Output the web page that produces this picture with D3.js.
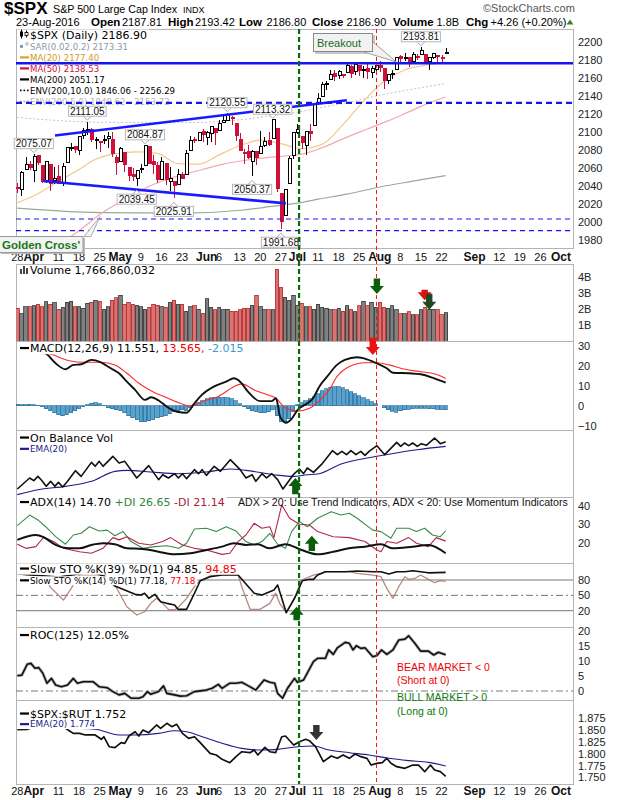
<!DOCTYPE html>
<html><head><meta charset="utf-8">
<script src="https://cdn.jsdelivr.net/npm/d3@7"></script>
<style>body{margin:0;background:#fff}</style>
</head><body><svg id="c" width="620" height="800" font-family="Liberation Sans, Arial, sans-serif"></svg>
<script>
// ---------------- DATA ----------------
const calStart='2016-03-28', calEnd='2016-10-08';
const holidays=['2016-05-30','2016-07-04','2016-09-05'];
const open=[2037.89,2035.75,2058.27,2063.77,2056.62,2073.19,2062.50,2045.56,2063.01,2045.54,
2050.23,2043.72,2065.92,2082.89,2083.10,2078.83,2096.05,2101.52,2102.09,2091.49,
2089.37,2089.84,2092.57,2090.93,2071.82,2067.17,2077.18,2060.30,2052.95,2047.77,
2057.55,2062.63,2083.29,2067.17,2062.50,2046.53,2065.04,2044.38,2044.21,2041.88,
2052.23,2052.65,2078.93,2091.44,2090.06,2100.13,2093.94,2097.71,2104.07,2100.83,
2110.18,2112.71,2115.65,2109.57,2091.75,2076.65,2077.60,2066.36,2078.20,2075.58,
2085.19,2089.75,2092.80,2103.81,2031.45,2006.67,2042.69,2073.17,2099.34,2095.05,
2084.43,2100.42,2106.97,2131.72,2139.50,2153.81,2157.88,2165.13,2162.04,2163.79,
2166.10,2172.91,2166.47,2173.71,2168.97,2169.81,2166.05,2168.83,2173.15,2169.94,
2156.81,2163.51,2168.79,2183.76,2182.24,2182.81,2177.97,2183.74,2186.08,2186.24,
2177.84,2181.90,2184.24,2181.58,2187.81];
const high=[2042.67,2055.91,2072.21,2067.92,2075.07,2074.02,2062.50,2067.33,2063.01,2060.63,
2062.93,2065.05,2083.18,2087.84,2083.22,2094.66,2104.05,2111.05,2103.78,2094.32,
2089.37,2096.87,2099.89,2099.30,2073.85,2083.42,2077.18,2060.30,2060.23,2057.72,
2064.15,2084.87,2083.29,2073.99,2066.79,2071.88,2065.69,2060.61,2044.21,2058.35,
2055.58,2079.67,2094.73,2094.30,2099.06,2103.48,2100.97,2105.26,2104.07,2113.36,
2119.22,2120.55,2117.64,2109.57,2098.12,2081.30,2085.65,2079.62,2078.20,2100.66,
2093.66,2099.71,2113.32,2103.81,2031.45,2036.09,2073.13,2098.94,2108.71,2095.05,
2100.72,2109.08,2131.71,2143.16,2155.40,2156.45,2169.05,2169.05,2168.35,2164.63,
2175.63,2174.56,2175.11,2173.71,2173.54,2174.98,2172.85,2177.09,2178.29,2170.20,
2163.79,2168.19,2182.87,2185.44,2187.66,2183.41,2188.45,2186.28,2193.81,2186.24,
2183.08,2187.03,2185.00,2184.87,2193.42];
const low=[2031.96,2028.31,2058.27,2057.46,2043.98,2062.57,2042.56,2043.09,2033.80,2041.69,
2041.88,2039.74,2065.92,2078.13,2076.31,2073.65,2091.68,2096.32,2088.52,2081.20,
2077.52,2085.80,2082.31,2071.62,2052.28,2066.11,2054.89,2045.55,2045.77,2039.45,
2054.31,2062.63,2064.46,2053.13,2043.13,2046.53,2040.82,2034.49,2025.91,2041.88,
2047.26,2052.65,2078.93,2087.08,2090.06,2088.66,2085.10,2088.59,2085.36,2100.83,
2110.18,2112.71,2107.73,2089.96,2078.46,2064.10,2069.80,2050.37,2062.84,2075.58,
2083.02,2084.36,2092.80,2032.57,1991.68,2006.67,2042.69,2070.00,2097.90,2080.86,
2074.02,2089.39,2106.97,2131.72,2139.50,2146.21,2157.88,2155.79,2159.07,2159.40,
2164.89,2159.75,2163.24,2161.95,2160.18,2159.07,2159.74,2163.49,2166.21,2147.58,
2152.61,2159.07,2168.79,2177.85,2178.61,2172.00,2177.97,2179.42,2186.08,2178.14,
2168.50,2180.46,2175.13,2175.30,2186.80];
const close=[2037.05,2055.01,2063.95,2059.74,2072.78,2066.13,2045.17,2066.66,2041.91,2047.60,
2041.99,2061.72,2082.42,2082.78,2080.73,2094.34,2100.80,2102.40,2091.48,2091.58,
2087.79,2091.70,2095.15,2075.81,2065.30,2081.43,2063.37,2051.12,2050.63,2057.14,
2058.69,2084.39,2064.46,2064.11,2046.61,2066.66,2047.21,2047.63,2040.04,2052.32,
2048.04,2076.06,2090.54,2090.10,2099.06,2096.95,2099.33,2105.26,2099.13,2109.41,
2112.13,2119.12,2115.48,2096.07,2079.06,2075.32,2071.50,2077.99,2071.22,2083.25,
2088.90,2085.45,2113.32,2037.41,2000.54,2036.09,2070.77,2098.86,2102.95,2088.55,
2099.73,2097.90,2129.90,2137.16,2152.14,2152.43,2163.75,2161.74,2166.89,2163.78,
2173.02,2165.17,2175.03,2168.48,2169.18,2166.58,2170.06,2173.60,2170.84,2157.03,
2163.79,2164.25,2182.87,2180.89,2181.74,2175.49,2185.79,2184.05,2190.15,2178.15,
2182.22,2187.02,2183.87,2182.64,2186.90];
const volume=[2.06,1.69,2.15,2.13,2.2,2.3,2.15,2.45,2.3,2.4,
1.99,2.1,2.42,2.48,2.15,2.15,2.06,2.35,2.42,2.56,
2.48,1.99,2.15,2.56,2.69,2.87,2.3,2.42,2.3,2.25,
2.15,2.0,2.1,2.3,2.23,2.15,2.1,2.42,2.56,2.3,
2.3,1.85,2.15,2.2,1.99,1.73,2.65,2.1,1.94,2.1,
1.94,1.99,1.85,1.85,1.94,2.06,2.06,2.23,2.87,2.15,
1.94,1.96,1.96,4.5,3.35,2.73,2.56,2.87,
2.23,2.35,2.15,2.15,1.99,2.3,2.1,2.06,1.94,1.94,2.04,1.85,2.2,1.99,1.83,2.2,2.48,2.2,2.42,2.1,2.42,2.1,2.06,2.2,1.94,1.69,1.69,1.83,1.63,1.63,1.94,2.1,1.99,1.99,1.94,1.63,1.77];
const ma20=[[0,2021],[5,2031],[10,2045],[15,2058],[19,2069.4],[24,2075.7],[29,2077.5],[34,2075.9],[39,2064.6],[44,2064],[49,2074.3],[54,2084.4],[59,2090.7],[64,2086.7],[69,2081.2],[74,2086],[79,2107.5],[84,2133.7],[89,2155.8],[94,2168.6],[99,2173.8],[104,2177.4]];
const ma50=[[0,1950],[4,1960],[8,1970],[10,1975],[15,1990],[20,2008],[25,2022],[30,2035],[35,2045],[40,2052],[45,2058],[50,2064],[55,2068],[60,2071],[65,2073],[70,2076],[75,2084],[80,2094],[85,2103],[90,2112],[95,2122],[100,2132],[104,2138.53]];
const ma200=[[0,2015],[20,2010],[40,2009.5],[55,2013],[60,2016],[68,2020.6],[73,2025],[80,2030.6],[88,2038.6],[96,2045],[104,2051.17]];
const envUpper=[[0,2115.8],[20,2110.5],[40,2110],[55,2113.7],[60,2116.8],[68,2121.6],[73,2126.3],[80,2132.1],[88,2140.5],[96,2147.3],[104,2153.72]];
const trendUpper=[[9.15,2095.8],[80,2134.9]];
const trendLower=[[6.3,2045.2],[65.2,2020.4]];
const levelSolid=2176, levelDashed=2132, levelsThin=[2003,1990];
const priceLabels=[[4,2075.07,'h'],[17,2111.05,'h'],[29,2039.45,'l'],[31,2084.87,'h'],[38,2025.91,'l'],[51,2120.55,'h'],[57,2050.37,'l'],[62,2113.32,'h'],[64,1991.68,'l'],[98,2193.81,'h']];
const macdLine=[[0,29],[3,28.5],[5,27.5],[7.2,25.7],[9.3,21.2],[11.7,18.2],[13.6,20.4],[15.5,20.7],[18,22.9],[20.3,21.7],[22.7,18.7],[24.7,16.2],[26.6,12],[28.6,7.9],[31,2.9],[32.5,4.2],[34.4,2.5],[36.3,-0.5],[38.8,-3],[41.1,-3.5],[43,1.2],[44.8,5.4],[47.7,9.5],[50.7,12],[52.6,13.7],[54.1,12],[56,7],[58.9,2.3],[61.8,2.3],[62.8,3.7],[63.8,-5.5],[65.2,-8.5],[66.7,-6.3],[68,-2.2],[70.4,1.2],[71.8,3.7],[73.3,9.5],[75.2,14.5],[77.6,20.4],[79.5,22.9],[82.5,24.2],[84.9,23.2],[87.3,21.2],[89.7,18.7],[91.2,16.5],[95.1,16.2],[98,15.7],[100.8,14],[102.7,12.5],[104,11.551]];
const macdSignal=[[0,27],[4,26.6],[7.2,26.2],[12.6,22.5],[16,21.7],[20.3,21.7],[23.7,20.4],[26.6,16.2],[29.5,11.2],[32.9,7],[36.3,4],[39.6,1.2],[42,-0.2],[44.8,2],[48.7,4.5],[52.6,9.5],[54.5,10.9],[57.5,7.9],[60.4,5.7],[62.8,3.7],[65.2,-1.3],[68,-2.7],[70.9,-1.3],[73.7,3.2],[75.7,7.9],[77.6,14.5],[80.5,19.5],[84.4,21.5],[87.3,21.5],[90.2,20.4],[94.1,18.2],[98,17],[101.7,15.7],[104,13.565]];
const macdHist=[0.8,0.6,0.5,0.8,0.5,0.2,-0.5,-1.5,-2.5,-3.5,-4.5,-5,-4.5,-3.5,-2.5,-1.5,-0.5,0.5,1.2,1.5,1,0.3,-1,-1.5,-2,-2.5,-3.5,-5,-6,-7,-8,-8,-7.5,-7,-6,-5.5,-5,-4,-3,-2.5,-2,-2.5,-1,0.5,1.5,2.5,3.5,4,4.2,4.3,4.2,4,3.5,2.5,1,-0.5,-1.5,-2.5,-3,-3.5,-3.5,-3,-2,-5,-8,-8,-6.5,-3,0.5,1.5,2.5,3.5,4.5,6,7.5,8.5,9.2,9.5,9.5,9,8,7,6,5,4,3,2,1,0,-1,-2,-2.8,-3.2,-2.5,-2,-1.8,-1.5,-1.3,-1.2,-1.3,-1.5,-1.6,-1.7,-1.9,-2.015];
const obv=[[0,11.9],[3,28.4],[4,24.4],[5,30.8],[5.9,24.9],[7,15.9],[8.1,23.4],[9.1,15.9],[10,21.9],[11,14.9],[12.2,23.4],[14.1,39.3],[15.5,30.8],[18,51.7],[18.9,45.8],[19.9,53.2],[20.8,45.8],[23.2,60.7],[24.7,50.7],[26.1,53.2],[29,28.4],[31.9,46.8],[34.3,25.9],[35.3,33.3],[36.7,28.4],[38.2,34.8],[39.1,28.4],[40.1,34.8],[41.1,27.4],[43,40.8],[44,34.8],[44.9,40.8],[45.9,32.3],[47.8,45.8],[49.3,38.3],[51.7,55.7],[54.1,40.8],[55.5,28.4],[57,33.3],[57.9,23.4],[59.4,34.8],[60.5,28.4],[61.8,34.8],[63.2,25.9],[64.5,11.9],[67,33.3],[68.5,41.8],[69.5,34.8],[70.4,43.3],[71.9,36.8],[73.8,48.3],[76.5,69.2],[77.7,63.2],[78.8,68.2],[79.9,63.2],[81,69.2],[82.2,63.2],[83.4,68.2],[84.4,62.2],[85.4,68.2],[87.3,76.6],[89.2,63.2],[92.1,81.6],[93.1,75.6],[94,80.6],[95,76.6],[96,80.6],[97.1,75.6],[98.1,79.6],[99.3,77.1],[101.3,88],[102.7,79.6],[104,82.6]];
const obvEma=[[0,3.5],[5,10.9],[11.7,15.9],[18,23.4],[23.7,38.3],[26.6,39.8],[32.4,37.3],[39.1,34.8],[45.8,37.3],[51.7,41.8],[55.5,39.8],[62.3,33.3],[67,30.8],[70.4,33.3],[72.9,34.3],[78.6,49.3],[87.3,60.7],[97,70.6],[104,75.6]];
const adx=[[0,21.8],[4.5,24.4],[6.4,23.2],[9.3,19.1],[12.6,17.3],[15.1,17.3],[18,19.1],[20.8,20],[23.7,19.5],[26.6,17.3],[30.5,17],[34.3,15.5],[38.2,14.1],[42,14.7],[45.9,16.4],[49.7,18.2],[52.6,20],[55.5,19.1],[58.4,19.5],[61.3,17.3],[65.1,19.5],[69,16.4],[72.9,14.1],[76.7,15.5],[80.5,17.3],[84.4,18.2],[88.3,19.5],[91.2,17.3],[96,18.2],[99.8,19.1],[104,14.7]];
const plusDI=[[0,29.4],[3,35],[5,32.4],[6.9,28.8],[9.3,23.5],[11.7,19.5],[13.6,24.4],[15.5,25.3],[17.5,28.8],[19.9,26.5],[21.8,27],[23.7,24],[25.7,26.2],[27.6,20.9],[30.5,17.3],[33.4,18.2],[36.3,18.7],[39.2,17.3],[41.1,20],[43,27.6],[45.9,28],[48.3,26.2],[50.7,28.8],[53.1,26.5],[55.5,20.9],[57.5,19.1],[59.4,20.9],[61.3,25.3],[63.2,19.5],[65.1,17.3],[66.6,26.2],[68.5,31.5],[70.4,28.8],[72.9,33.3],[76.2,36.8],[78.6,35],[80.6,36],[82.5,33.3],[86.3,27],[88.3,26.2],[90.7,22.7],[92.1,28],[95,28],[96.9,26.2],[98.9,28],[100.8,24.4],[102.7,23.5],[104,26.65]];
const minusDI=[[0,19.5],[2.1,17.3],[4.5,18.2],[6.4,23.2],[8.8,20.9],[11.2,17.3],[15.1,15.5],[18,14.7],[20.8,17.3],[23.2,23],[24.7,21.8],[26.6,23.5],[29.5,20],[32.4,19.1],[35.3,20.9],[37.2,23],[40.1,19.1],[43,17.3],[45.9,16.4],[49.7,14.1],[51.6,14.7],[53.6,20.9],[55.5,24.4],[57.5,30.6],[59.4,28],[61.3,28.8],[62.3,23],[64.2,40.4],[66.1,33.3],[68.5,30.1],[70.9,29.7],[72.9,26.2],[76.7,23.5],[80.6,23],[84.4,20.9],[87.3,16.4],[88.3,15.5],[89.7,20.9],[92.1,20],[95,23],[96.9,20],[99.8,18.2],[101.7,23],[104,21.14]];
const stoK39=[[0,92],[10,86],[18,95],[21,88],[23.7,68.2],[28.6,52],[30,50.7],[30.9,54],[31.9,44.2],[33.4,52],[34.8,37.6],[36.3,34.4],[38.2,31.1],[39,22.7],[41.1,22.7],[43,54],[44.4,78.6],[46.8,86.4],[49.7,89.7],[53.6,89.7],[57.5,54],[59.4,50.7],[62.3,60.4],[63.2,70.2],[65.3,16.1],[67.5,47.3],[69.2,78.6],[70.9,81.3],[71.9,81.3],[72.9,89.7],[74.8,96.2],[79.6,96.2],[82.5,97.5],[86.3,96.2],[88.3,96.2],[90.2,91.7],[92.1,96],[94.1,96.2],[96,98.1],[97.9,96.2],[99.8,94],[104,94.85]];
const stoK14=[[0,92],[6,88],[8.3,63.7],[11.2,40.9],[13.1,63.7],[15,90],[21,90],[23.7,70.2],[26.6,27.8],[29,11.6],[30.9,18],[32.4,34.4],[33.8,44.2],[35.3,34.4],[36.7,22.7],[38.2,21.4],[39.2,27.8],[41.1,44.2],[43,66.9],[44,76.6],[46.8,88],[49.7,91],[53.6,90],[54.5,66.9],[56.5,22.7],[58.9,22.7],[61.3,34.4],[62.7,54],[63.7,34.4],[65.3,16.1],[67.1,40.9],[69,80],[71.9,89.7],[73.8,93],[74.8,96.2],[80.5,96.2],[82.5,93],[86.3,89.7],[88.3,86.4],[89.7,63.7],[91.2,44.2],[92.6,66.9],[94.1,86.4],[95,81.3],[96.5,83],[97.9,89.7],[99.8,81.3],[101.3,74.7],[102.7,78.6],[104,77.18]];
const roc=[[0,5.1],[1.1,5.3],[2.4,8.9],[3.3,9.2],[4.3,7.6],[5.2,7.8],[6.2,5.9],[7.2,2.6],[8.3,4.2],[9.3,2],[10.7,1.4],[12.2,2],[13.6,4.2],[14.6,2.6],[16,3.1],[18.4,3.1],[19.9,1.4],[21.8,1.1],[23.2,-0.2],[24.7,-1.3],[26.1,-0.8],[27.6,-2.4],[29.5,-2.4],[30.5,-1.9],[31.6,-0.2],[32.4,-1.1],[34.3,-0.2],[35.5,1.7],[36.3,-0.8],[38.2,-1.3],[39.6,-1.7],[41.1,-1.6],[43,-0.2],[45.9,0.3],[47.3,0.9],[48.8,2.2],[49.7,0.9],[51.6,2.6],[53.1,2.6],[54.5,2.9],[56,1.8],[57.9,0.3],[59.9,3.7],[61.3,2.9],[62.5,2.6],[63.2,-0.8],[64.4,-2.4],[65.6,0.9],[67.3,4.2],[68,2.9],[69.5,3.7],[71.9,9.8],[72.9,10.9],[74.8,10.9],[75.6,13.7],[76.7,12.2],[77.7,14.4],[79.6,16.2],[80.6,15.9],[81.5,13.7],[82.3,15.1],[83.4,14.2],[84.4,14.4],[86.3,11.4],[87.3,11.8],[88.4,13.7],[89.7,12.2],[91.2,13.7],[92.6,17],[94.1,17.3],[95,18.4],[96.5,15.9],[97.9,13.3],[99.8,13.3],[101.1,12],[102.2,12.9],[104,12.05]];
const ratio=[[0,1.851],[2.5,1.8517],[4.5,1.858],[8,1.862],[11,1.858],[12.6,1.8487],[13.6,1.843],[15.1,1.843],[16.5,1.8397],[18.9,1.8397],[20.4,1.8305],[21,1.836],[22.3,1.8148],[23.7,1.8127],[25.2,1.8233],[26.1,1.822],[27.1,1.8375],[28.6,1.8466],[29.5,1.8375],[30.5,1.8502],[31.9,1.8445],[33.8,1.8608],[34.8,1.8537],[36.3,1.8644],[37.5,1.8573],[38.7,1.8622],[40.1,1.843],[41.6,1.8324],[43,1.836],[44.4,1.8233],[46.8,1.8008],[48.3,1.7973],[49.7,1.7881],[51.6,1.781],[53.1,1.7937],[54.5,1.8042],[56.5,1.8021],[57.5,1.8078],[58.4,1.7973],[60.1,1.8134],[61.3,1.8042],[62.7,1.8021],[64.2,1.836],[65.1,1.8375],[67.1,1.8184],[68.5,1.8254],[70,1.8305],[70.9,1.8276],[72.4,1.8148],[74.3,1.7831],[76.2,1.7952],[77.7,1.7902],[79.1,1.7973],[80.6,1.7902],[82,1.7994],[83.4,1.7937],[84.9,1.7902],[85.9,1.776],[87.3,1.7796],[88.6,1.781],[89.7,1.7902],[90.7,1.7796],[92.1,1.7725],[94.1,1.769],[96,1.776],[97.4,1.776],[98.9,1.7619],[100.3,1.776],[101.3,1.7654],[102.7,1.7619],[104,1.752]];
const ratioEma=[[0,1.856],[10,1.855],[18.9,1.8517],[24.7,1.8397],[28.6,1.8397],[34.3,1.843],[38.2,1.8487],[41.1,1.8466],[44.9,1.836],[49.7,1.822],[54.5,1.8113],[59.4,1.8078],[63.2,1.8092],[68,1.8148],[71.9,1.8163],[75.7,1.8078],[80.6,1.8021],[85.4,1.7973],[90.2,1.7902],[95,1.7853],[99.8,1.7817],[104,1.774]];
const dateTicks=[['2016-03-28','28'],['2016-04-01','Apr',1],['2016-04-11','11'],['2016-04-18','18'],['2016-04-25','25'],['2016-05-02','May',1],['2016-05-09','9'],['2016-05-16','16'],['2016-05-23','23'],['2016-06-01','Jun',1],['2016-06-06','6'],['2016-06-13','13'],['2016-06-20','20'],['2016-06-27','27'],['2016-07-01','Jul',1],['2016-07-11','11'],['2016-07-18','18'],['2016-07-25','25'],['2016-08-01','Aug',1],['2016-08-08','8'],['2016-08-15','15'],['2016-08-22','22'],['2016-09-01','Sep',1],['2016-09-12','12'],['2016-09-19','19'],['2016-09-26','26'],['2016-10-03','Oct',1]];
const mainTicks=[1980,2000,2020,2040,2060,2080,2100,2120,2140,2160,2180,2200];
const volTicks=[1,2,3,4], macdTicks=[-10,0,10,20,30], adxTicks=[20,30,40], stoTicks=[20,50,80], rocTicks=[0,5,10,15,20], ratioTicks=[1.75,1.775,1.8,1.825,1.85,1.875];
const breakoutIdx=68.4, crossIdx=87.2;
// arrows: [panel, idx, tailValue, tipValue, color]
const arrows=[['vol',87.3,3.9,2.94,'#0a5e0a'],['vol',98.9,3.2,2.55,'#e01010'],['vol',100,2.95,1.95,'#1f4a1f'],['macd',86.3,34,25.4,'#ee1111'],['obv',67.5,4,28.4,'#0a5e0a'],['adx',71.5,15.9,24,'#0a5e0a'],['sto',67.8,1.5,27.8,'#0a5e0a'],['ratio',72.6,1.861,1.829,'#333333']];

// ---------------- LAYOUT ----------------
const svg=d3.select('#c');
const L=16,R=573;
const LF='DejaVu Sans, Verdana, sans-serif';
const panels={main:[29,248],vol:[264,341],macd:[341,430],obv:[430,497],adx:[497,563],sto:[563,627],roc:[627,700],ratio:[700,784]};
const x=d3.scaleLinear().domain([0,104]).range([17.3,445.7]);
const y={
 main:d3.scaleLinear([1970.8,2214.1],[248,29]),
 vol:d3.scaleLinear([0,4.8125],[341,264]),
 macd:d3.scaleLinear([-12.15,32.35],[430,341]),
 obv:d3.scaleLinear([0,100],[497,430]),
 adx:d3.scaleLinear([9.5,44.6],[563,497]),
 sto:d3.scaleLinear([-11.8,113.2],[627,563]),
 roc:d3.scaleLinear([-3,21.33],[700,627]),
 ratio:d3.scaleLinear([1.7358,1.9138],[784,700])
};
const fmt=d3.utcFormat('%Y-%m-%d');
const cal=d3.utcDay.range(new Date(calStart+'T00:00Z'),new Date(calEnd+'T00:00Z')).filter(d=>d.getUTCDay()%6!==0&&!holidays.includes(fmt(d))).map(fmt);
const dayIdx=new Map(cal.map((d,i)=>[d,i]));
const isDown=i=>i===0?close[0]<open[0]:close[i]<close[i-1];
const RED='#d0103a';

const defs=svg.append('defs');
const G={};
Object.entries(panels).forEach(([k,[t,b]])=>{
  defs.append('clipPath').attr('id','cl-'+k).append('rect').attr('x',L).attr('y',t).attr('width',R-L).attr('height',b-t);
  svg.append('rect').attr('x',L+0.5).attr('y',t+0.5).attr('width',R-L).attr('height',b-t).attr('fill','#fff').attr('stroke','#b4b4b4');
  G[k]=svg.append('g').attr('clip-path',`url(#cl-${k})`);
});

function sline(g,pts,ys,stroke,w,opt={}){
  const ln=d3.line().x(d=>x(d[0])).y(d=>ys(d[1])).curve(opt.curve||d3.curveLinear);
  return g.append('path').datum(pts).attr('d',ln).attr('fill','none').attr('stroke',stroke).attr('stroke-width',w)
   .attr('stroke-dasharray',opt.dash||null).attr('stroke-linejoin','round').attr('opacity',opt.op||1);
}
function axis(k,ticks,f){
  const g=svg.append('g').attr('transform',`translate(${R+1},0)`).call(d3.axisRight(y[k]).tickValues(ticks).tickSize(0).tickPadding(4).tickFormat(f||d3.format('d')));
  g.select('.domain').remove();
  g.attr('font-family','Liberation Sans, Arial, sans-serif').attr('font-size',11);
  g.selectAll('text').attr('fill','#222');
}
// rows: {icon, ic, size, parts}
function legend(rows,x0,b0,step){
  rows.forEach((r,k)=>{
    const by=b0+k*step; const g=svg.append('g'); const fs=r.size||11;
    const bg=g.append('rect').attr('fill','#fff');
    const iy=by-fs*0.36;
    if(r.icon==='line') g.append('rect').attr('x',x0+3).attr('y',iy-1.1).attr('width',9).attr('height',2.2).attr('fill',r.ic);
    if(r.icon==='dots') [0,3.5,7].forEach(d=>g.append('rect').attr('x',x0+3+d).attr('y',iy-0.8).attr('width',1.6).attr('height',1.6).attr('fill',r.ic));
    if(r.icon==='sar'){g.append('rect').attr('x',x0+3).attr('y',iy-1.5).attr('width',3).attr('height',3).attr('fill',r.ic);g.append('circle').attr('cx',x0+10).attr('cy',iy-2.5).attr('r',1.3).attr('fill','none').attr('stroke',r.ic).attr('stroke-width',0.8);}
    if(r.icon==='candle'){g.append('line').attr('x1',x0+4.5).attr('x2',x0+4.5).attr('y1',by-9).attr('y2',by).attr('stroke','#000');g.append('rect').attr('x',x0+3).attr('y',by-7).attr('width',3).attr('height',5).attr('fill','#000');g.append('line').attr('x1',x0+9.5).attr('x2',x0+9.5).attr('y1',by-8).attr('y2',by-1).attr('stroke','#000');g.append('rect').attr('x',x0+8).attr('y',by-6).attr('width',3).attr('height',3).attr('fill','#fff').attr('stroke','#000').attr('stroke-width',0.8);}
    if(r.icon==='bars') [[0,5],[3,8],[6,6]].forEach(([d,h])=>g.append('rect').attr('x',x0+3+d).attr('y',by-h).attr('width',2).attr('height',h).attr('fill','#444'));
    const t=g.append('text').attr('x',x0+13).attr('y',by).attr('font-family',LF).attr('font-size',fs);
    r.parts.forEach(p=>t.append('tspan').text(p[0]).attr('fill',p[1]));
    const w=t.node().getComputedTextLength();
    bg.attr('x',x0).attr('y',by-fs*0.82).attr('width',w+15).attr('height',fs*1.02);
  });
}

// ---------------- MAIN PANEL ----------------
const gm=G.main;
sline(gm,envUpper,y.main,'#c4c4c4',1,{dash:'2,2',curve:d3.curveMonotoneX});
sline(gm,ma200,y.main,'#98aa98',1.2,{curve:d3.curveMonotoneX});
sline(gm,ma50,y.main,'#f2a8b0',1.2,{curve:d3.curveMonotoneX});
sline(gm,ma20,y.main,'#f3c88c',1.2,{curve:d3.curveMonotoneX});
const cg=gm.append('g').attr('shape-rendering','crispEdges');
close.forEach((c,i)=>{
  const col=isDown(i)?RED:'#000', xi=Math.round(x(i));
  cg.append('line').attr('x1',xi+0.5).attr('x2',xi+0.5).attr('y1',y.main(high[i])).attr('y2',y.main(low[i])).attr('stroke',col);
  const top=y.main(Math.max(open[i],c)), bot=y.main(Math.min(open[i],c));
  cg.append('rect').attr('x',xi-1).attr('y',top).attr('width',3).attr('height',Math.max(1,bot-top))
    .attr('fill',c<open[i]?col:'#fff').attr('stroke',col).attr('stroke-width',1);
});
legend([
 {icon:'candle',size:11,parts:[['$SPX (Daily) 2186.90','#000']]},
 {icon:'sar',ic:'#8a98a8',size:8.6,parts:[['SAR(0.02,0.2) 2173.31','#8a98a8']]},
 {icon:'line',ic:'#d9a030',size:8.6,parts:[['MA(20) 2177.40','#d09a2a']]},
 {icon:'line',ic:RED,size:8.6,parts:[['MA(50) 2138.53',RED]]},
 {icon:'line',ic:'#000',size:8.6,parts:[['MA(200) 2051.17','#000']]},
 {icon:'dots',ic:'#000',size:8.6,parts:[['ENV(200,10.0) 1846.06 - 2256.29','#000']]},
 {icon:'dots',ic:'#aaa',size:8.6,parts:[['ENV(200,5.0) 1948.62 - 2153.72','#b4b4b4']]}
],17,38.5,11);
// trend / levels
const ov=svg.append('g').attr('clip-path','url(#cl-main)');
sline(ov,trendUpper,y.main,'#1a1aff',2.6);
sline(ov,trendLower,y.main,'#1a1aff',2.6);
ov.append('line').attr('x1',L).attr('x2',R).attr('y1',y.main(levelSolid)).attr('y2',y.main(levelSolid)).attr('stroke','#1414f0').attr('stroke-width',2.6);
ov.append('line').attr('x1',L).attr('x2',R).attr('y1',y.main(levelDashed)).attr('y2',y.main(levelDashed)).attr('stroke','#1414f0').attr('stroke-width',2.2).attr('stroke-dasharray','6,4');
levelsThin.forEach(v=>ov.append('line').attr('x1',L).attr('x2',R).attr('y1',y.main(v)).attr('y2',y.main(v)).attr('stroke','#1414f0').attr('stroke-width',1.2).attr('stroke-dasharray','5,4'));
// price labels
priceLabels.forEach(([i,v,k])=>{
  const g=svg.append('g'); const cx=x(i); const yy=y.main(v);
  const t=g.append('text').attr('x',cx).attr('text-anchor','middle').attr('font-size',10).attr('fill','#111').text(v.toFixed(2));
  const w=t.node().getComputedTextLength()+3;
  let by0;
  if(k==='h'){by0=yy-5.5-10; g.insert('path','text').attr('d',`M${cx-4},${by0+10}L${cx},${by0+14}L${cx+4},${by0+10}`).attr('fill','#fff').attr('stroke','#aaa');}
  else {by0=yy+8; g.insert('path','text').attr('d',`M${cx-4},${by0}L${cx},${by0-4}L${cx+4},${by0}`).attr('fill','#fff').attr('stroke','#aaa');}
  g.insert('rect','text').attr('x',cx-w/2).attr('y',by0).attr('width',w).attr('height',10).attr('fill','#fff').attr('stroke','#b8b8b8');
  t.attr('y',by0+8.5);
});

// ---------------- VOLUME ----------------
const vg=G.vol.append('g').attr('shape-rendering','crispEdges');
volume.forEach((v,i)=>{
  const d=isDown(i);
  vg.append('rect').attr('x',x(i)-1.6).attr('y',y.vol(v)).attr('width',3.4).attr('height',y.vol(0)-y.vol(v))
   .attr('fill',d?'#d87474':'#808080').attr('stroke',d?'#b82c2c':'#383838').attr('stroke-width',0.8);
});
legend([{icon:'bars',parts:[['Volume 1,766,860,032','#000']]}],17,274,11);
axis('vol',volTicks,d=>d+'B');

// ---------------- MACD ----------------
const hg=G.macd.append('g').attr('shape-rendering','crispEdges');
macdHist.forEach((v,i)=>{
  hg.append('rect').attr('x',x(i)-1.7).attr('y',Math.min(y.macd(v),y.macd(0))).attr('width',3.4).attr('height',Math.abs(y.macd(v)-y.macd(0)))
   .attr('fill','#55a3d2').attr('stroke','#2d6f98').attr('stroke-width',0.7);
});
sline(G.macd,macdSignal,y.macd,'#ff2a2a',1.1,{curve:d3.curveMonotoneX});
sline(G.macd,macdLine,y.macd,'#111',1.9,{curve:d3.curveMonotoneX});
legend([{icon:'line',ic:'#000',parts:[['MACD(12,26,9) 11.551, ','#000'],['13.565, ','#e00'],['-2.015','#3a9ad0']]}],17,352,11);
axis('macd',macdTicks);

// ---------------- OBV ----------------
sline(G.obv,obvEma,y.obv,'#1c1c8c',1.1,{curve:d3.curveMonotoneX});
sline(G.obv,obv,y.obv,'#111',1.6);
legend([{icon:'line',ic:'#000',parts:[['On Balance Vol','#000']]},{icon:'line',ic:'#1c1c8c',size:8.8,parts:[['EMA(20)','#1c1c8c']]}],17,441.5,10.5);

// ---------------- ADX ----------------
sline(G.adx,plusDI,y.adx,'#3a8a4e',1.1);
sline(G.adx,minusDI,y.adx,'#b0284a',1.1);
sline(G.adx,adx,y.adx,'#111',2,{curve:d3.curveMonotoneX});
legend([{icon:'line',ic:'#000',parts:[['ADX(14) 14.70 ','#000'],['+DI 26.65 ','#2e8540'],['-DI 21.14','#a8203e']]}],17,506,11);
svg.append('text').attr('x',238).attr('y',505.5).attr('font-size',10.6).attr('fill','#111').text('ADX > 20: Use Trend Indicators, ADX < 20: Use Momentum Indicators');
axis('adx',adxTicks);

// ---------------- STO ----------------
[[80,null],[50,'7,3,2,3'],[20,null]].forEach(([v,d])=>G.sto.append('line').attr('x1',L).attr('x2',R).attr('y1',y.sto(v)).attr('y2',y.sto(v)).attr('stroke','#777').attr('stroke-width',1).attr('stroke-dasharray',d));
sline(G.sto,stoK14,y.sto,'#a9746c',1.3,{op:0.85});
sline(G.sto,stoK39,y.sto,'#111',1.6);
legend([{icon:'line',ic:'#000',parts:[['Slow STO %K(39) %D(1) 94.85, ','#000'],['94.85','#e00']]},{icon:'line',ic:'#000',size:8.8,parts:[['Slow STO %K(14) %D(1) 77.18, ','#000'],['77.18','#e00']]}],17,572.5,11);
axis('sto',stoTicks);

// ---------------- ROC ----------------
G.roc.append('line').attr('x1',L).attr('x2',R).attr('y1',y.roc(0)).attr('y2',y.roc(0)).attr('stroke','#777').attr('stroke-dasharray','7,3,2,3');
sline(G.roc,roc,y.roc,'#bbb',3.2);
sline(G.roc,roc,y.roc,'#111',1.6);
legend([{icon:'line',ic:'#000',parts:[['ROC(125) 12.05%','#000']]}],17,639,11);
axis('roc',rocTicks);
[['BEAR MARKET < 0','#e00',670.5],['(Short at 0)','#e00',684],['BULL MARKET > 0','#0a7a0a',700.5],['(Long at 0)','#0a7a0a',714.5]].forEach(([t,c,b])=>svg.append('text').attr('x',397).attr('y',b).attr('font-size',10.5).attr('fill',c).text(t));

// ---------------- RATIO ----------------
sline(G.ratio,ratioEma,y.ratio,'#1c1c8c',1.1,{curve:d3.curveMonotoneX});
sline(G.ratio,ratio,y.ratio,'#111',1.7);
legend([{icon:'line',ic:'#000',parts:[['$SPX:$RUT 1.752','#000']]},{icon:'line',ic:'#1c1c8c',size:8.8,parts:[['EMA(20) 1.774','#1c1c8c']]}],17,717.5,9.8);
axis('ratio',ratioTicks,d3.format('.3f'));

// ---------------- VERTICALS / ARROWS ----------------
svg.append('line').attr('x1',x(breakoutIdx)).attr('x2',x(breakoutIdx)).attr('y1',29).attr('y2',784).attr('stroke','#0b6b0b').attr('stroke-width',2.2).attr('stroke-dasharray','5,3');
svg.append('line').attr('x1',x(crossIdx)).attr('x2',x(crossIdx)).attr('y1',29).attr('y2',784).attr('stroke','#f01818').attr('stroke-width',1).attr('stroke-dasharray','4,3');
arrows.forEach(([k,i,a,b,c])=>{
  const cx=x(i), yt=y[k](a), yp=y[k](b), dir=yp>yt?1:-1, hl=8, yh=yp-dir*hl, hw=7, sw=3.2;
  const pts=[[cx-sw,yt],[cx+sw,yt],[cx+sw,yh],[cx+hw,yh],[cx,yp],[cx-hw,yh],[cx-sw,yh]];
  svg.append('polygon').attr('points',pts.map(p=>p.join(',')).join(' ')).attr('fill',c);
});

// ---------------- DATE LABELS ----------------
[260.5,795].forEach(by=>{
  dateTicks.forEach(([d,t,b])=>{
    svg.append('text').attr('x',x(dayIdx.get(d))).attr('y',by).attr('text-anchor','middle').attr('font-size',b?12:11).attr('font-weight',b?'bold':'normal').attr('fill','#111').text(t);
  });
});
axis('main',mainTicks);

// ---------------- CALLOUTS ----------------
const gc=svg.append('g');
gc.append('rect').attr('x',1).attr('y',238).attr('width',84).attr('height',16).attr('fill','#bbb');
gc.append('polygon').attr('points','84,236.5 91,236.5 100,216.5').attr('fill','#f3f3f3').attr('stroke','#999').attr('stroke-width',0.8);
gc.append('rect').attr('x',-1).attr('y',236.5).attr('width',84).attr('height',16).attr('fill','#f3f3f3').attr('stroke','#999');
gc.append('text').attr('x',2).attr('y',248.5).attr('font-size',11.5).attr('font-weight','bold').attr('fill','#187818').text("Golden Cross'");
const gb=svg.append('g');
gb.append('rect').attr('x',315).attr('y',35).attr('width',60).attr('height',19).attr('fill','#c8c8c8');
gb.append('polygon').attr('points','364,52 373,42 396.5,62').attr('fill','#f2f2f2').attr('stroke','#888').attr('stroke-width',0.8);
gb.append('rect').attr('x',313.5).attr('y',33.5).attr('width',59).attr('height',18).attr('fill','#f2f2f2').attr('stroke','#888');
gb.append('text').attr('x',317).attr('y',47).attr('font-size',11).attr('fill','#1a6b1a').text('Breakout');

// ---------------- HEADER ----------------
svg.append('text').attr('x',4).attr('y',14).attr('font-size',17).attr('font-weight','bold').attr('fill','#000').text('$SPX');
svg.append('text').attr('x',53).attr('y',13).attr('font-size',10.7).attr('fill','#000').text('S&P 500 Large Cap Index');
svg.append('text').attr('x',183).attr('y',13).attr('font-size',9).attr('fill','#000').text('INDX');
svg.append('text').attr('x',483).attr('y',12).attr('font-size',11).attr('fill','#555').text('\u00a9StockCharts.com');
[[16,'23-Aug-2016',0],[91,'Open',1],[122,'2187.81',0],[168,'High',1],[195,'2193.42',0],[239,'Low',1],[266.5,'2186.80',0],[312,'Close',1],[346.5,'2186.90',0],[393,'Volume',1],[436.5,'1.8B',0],[466,'Chg',1],[490.5,'+4.26 (+0.20%)',0]].forEach(([xx,t,b])=>{
  svg.append('text').attr('x',xx).attr('y',26).attr('font-size',b?11.5:11).attr('font-weight',b?'bold':'normal').attr('fill','#000').text(t);
});
svg.append('path').attr('d','M566.5,24.5L570,19.5L573.5,24.5Z').attr('fill','#2a8a2a');
</script></body></html>
